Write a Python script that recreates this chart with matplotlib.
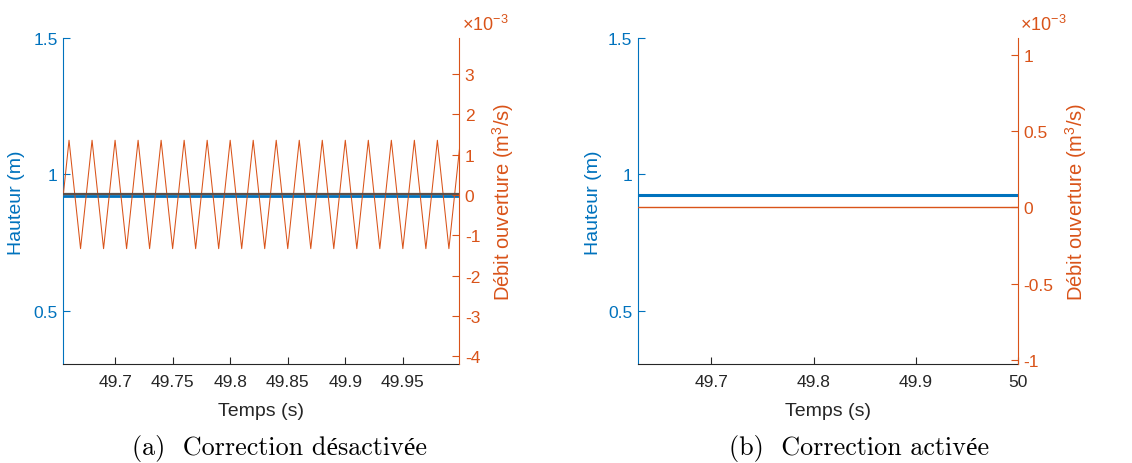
import numpy as np
import matplotlib
matplotlib.use("Agg")
import matplotlib.pyplot as plt
from matplotlib.ticker import FormatStrFormatter

plt.rcParams['font.family'] = ['Liberation Sans', 'DejaVu Sans']
plt.rcParams['axes.unicode_minus'] = False
plt.rcParams['mathtext.fontset'] = 'custom'
plt.rcParams['mathtext.rm'] = 'Liberation Sans'
plt.rcParams['mathtext.default'] = 'regular'

BLUE = '#0072BD'
ORANGE = '#D95319'
GREY = '#262626'

# (a) correction off
temps_a = [49.655, 49.66, 49.67, 49.68, 49.69, 49.70, 49.71, 49.72, 49.73,
           49.74, 49.75, 49.76, 49.77, 49.78, 49.79, 49.80, 49.81, 49.82,
           49.83, 49.84, 49.85, 49.86, 49.87, 49.88, 49.89, 49.90, 49.91,
           49.92, 49.93, 49.94, 49.95, 49.96, 49.97, 49.98, 49.99, 50.00]
debit_a = [0.0, 1.36, -1.33, 1.36, -1.33, 1.36, -1.33, 1.36, -1.33,
           1.36, -1.33, 1.36, -1.33, 1.36, -1.33, 1.36, -1.33, 1.36,
           -1.33, 1.36, -1.33, 1.36, -1.33, 1.36, -1.33, 1.36, -1.33,
           1.36, -1.33, 1.36, -1.33, 1.36, -1.33, 1.36, -1.33, 1.36]  # x1e-3
hauteur_temps_a = [49.655, 49.999]
hauteur_a = [0.921, 0.921]
consigne_a = [0.02, 0.02]

# (b) correction on
temps_b = [49.628, 50.0]
hauteur_b = [0.926, 0.926]
debit_b = [0.0, 0.0]  # x1e-3

xticks_a = [49.7, 49.75, 49.8, 49.85, 49.9, 49.95]
xticks_b = [49.7, 49.8, 49.9, 50.0]
yticks_left = [0.5, 1.0, 1.5]
yticks_right_a = [-4, -3, -2, -1, 0, 1, 2, 3]
yticks_right_b = [-1, -0.5, 0, 0.5, 1]

fig = plt.figure(figsize=(11.32, 4.64), dpi=100)

ax_a = fig.add_axes([0.0559, 0.2127, 0.3498, 0.7026])
ax_b = fig.add_axes([0.5636, 0.2127, 0.3354, 0.7026])


def style_axes(ax, ax2, xlim, xticks, ylim2, yticks2, lab_left, lab_right):
    ax.set_xlim(*xlim)
    ax.set_ylim(0.303, 1.5)
    ax.set_xticks(xticks)
    ax.set_yticks(yticks_left)
    ax2.set_ylim(*ylim2)
    ax2.set_yticks(yticks2)
    ax.xaxis.set_major_formatter(FormatStrFormatter('%g'))
    ax.yaxis.set_major_formatter(FormatStrFormatter('%g'))
    ax2.yaxis.set_major_formatter(FormatStrFormatter('%g'))

    for a in (ax, ax2):
        a.spines['top'].set_visible(False)
        a.spines['bottom'].set_color(GREY)
        a.spines['left'].set_color(BLUE)
        a.spines['right'].set_color(ORANGE)
        for s in a.spines.values():
            s.set_linewidth(0.8)
    ax.spines['right'].set_visible(False)
    ax2.spines['left'].set_visible(False)
    ax2.spines['bottom'].set_visible(False)

    ax.tick_params(axis='x', direction='in', length=5, width=0.8,
                   colors=GREY, labelsize=12.5, pad=7)
    ax.tick_params(axis='y', direction='in', length=5, width=0.8,
                   colors=BLUE, labelsize=12.5, pad=4)
    ax2.tick_params(axis='y', direction='in', length=5, width=0.8,
                    colors=ORANGE, labelsize=12.5, pad=4)

    ax.set_xlabel('Temps (s)', fontsize=14, color=GREY)
    ax.xaxis.label.set_va('center')
    ax.xaxis.set_label_coords(0.5, -0.142)
    ax.set_ylabel('Hauteur (m)', fontsize=14, color=BLUE)
    ax.yaxis.label.set_va('center')
    ax.yaxis.set_label_coords(lab_left, 0.5)
    ax2.set_ylabel('Débit ouverture (m$^{3}$/s)', fontsize=14.5, color=ORANGE)
    ax2.yaxis.label.set_va('center')
    ax2.yaxis.set_label_coords(lab_right, 0.5)

    ax2.text(1.006, 1.044, '×10$^{-3}$', transform=ax2.transAxes,
             fontsize=13, color=ORANGE, ha='left', va='center')


# panel (a)
ax2_a = ax_a.twinx()
ax_a.plot(hauteur_temps_a, hauteur_a, color=BLUE, lw=2.0)
ax2_a.plot(temps_a, debit_a, color=ORANGE, lw=0.75)
ax2_a.plot(hauteur_temps_a, consigne_a, color='#5e5048', lw=1.6)
style_axes(ax_a, ax2_a, (49.655, 49.999), xticks_a, (-4.2, 3.89),
           yticks_right_a, -0.119, 1.110)

# panel (b)
ax2_b = ax_b.twinx()
ax_b.plot(temps_b, hauteur_b, color=BLUE, lw=2.2)
ax2_b.plot(temps_b, debit_b, color=ORANGE, lw=1.0)
style_axes(ax_b, ax2_b, (49.628, 50.0), xticks_b, (-1.03, 1.11),
           yticks_right_b, -0.118, 1.155)

cap_font = ['cmr10', 'Liberation Serif']
fig.text(279 / 1132, 1 - 449 / 464, '(a)  Correction désactivée',
         family=cap_font, fontsize=18.8, ha='center', va='center')
fig.text(859 / 1132, 1 - 449 / 464, '(b)  Correction activée',
         family=cap_font, fontsize=18.8, ha='center', va='center')

fig.savefig('out.png', dpi=100)
